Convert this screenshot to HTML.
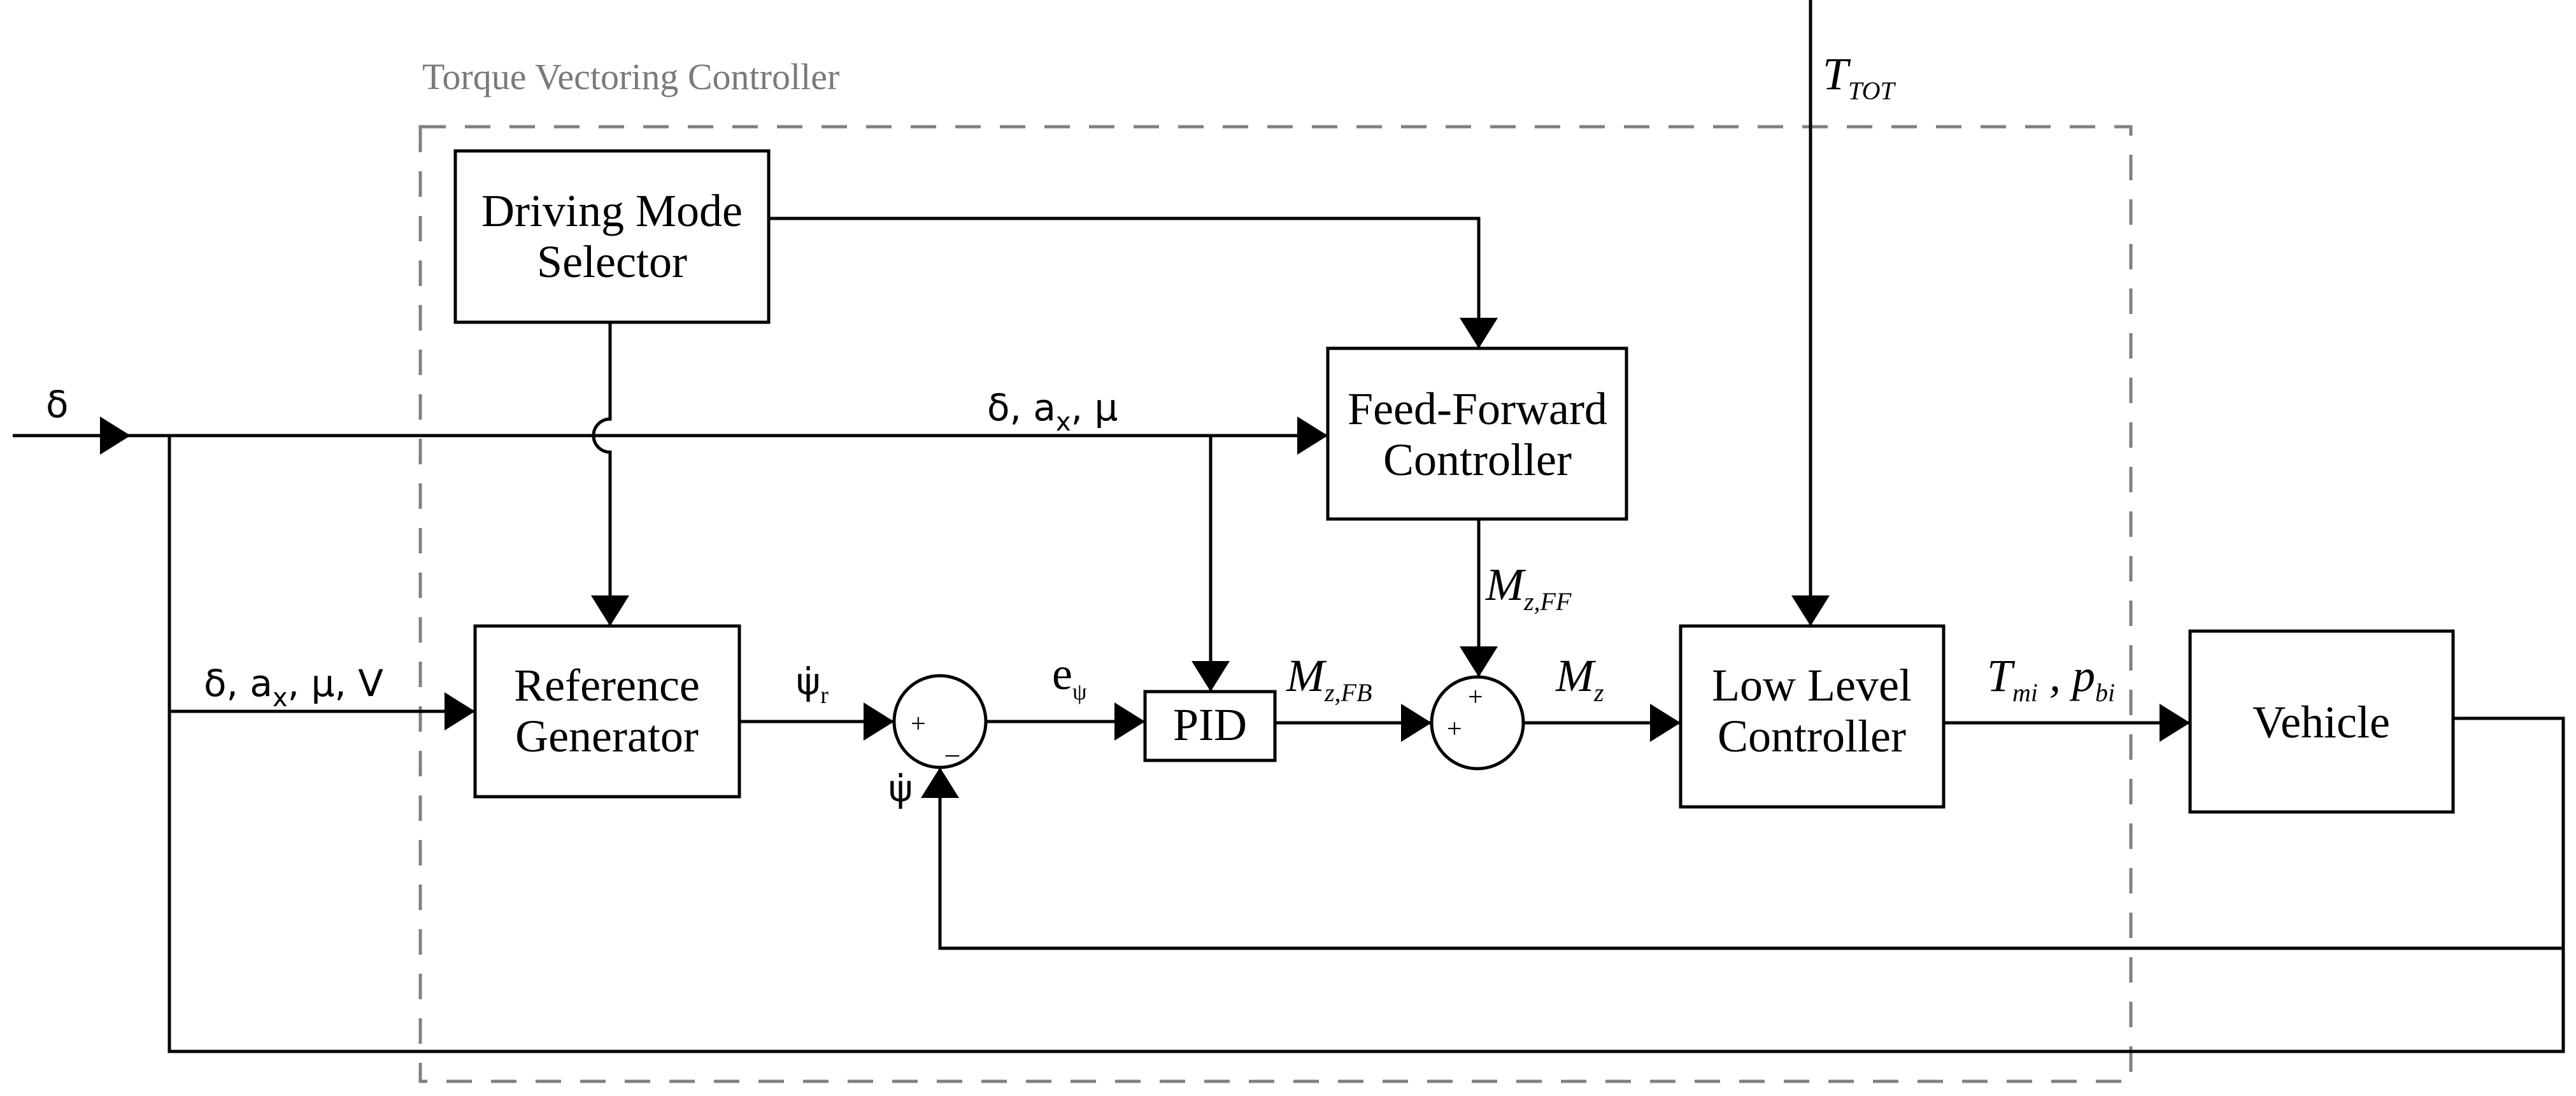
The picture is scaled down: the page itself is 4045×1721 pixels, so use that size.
<!DOCTYPE html>
<html><head><meta charset="utf-8"><style>
html,body{margin:0;padding:0;background:#fff;}
svg{display:block;}
.s{font-family:"Liberation Serif",serif;font-size:72px;fill:#000;}
.a{font-family:"DejaVu Sans","Liberation Sans",sans-serif;font-size:58px;fill:#000;}
</style></head><body>
<svg width="4045" height="1721" viewBox="0 0 4045 1721" xmlns="http://www.w3.org/2000/svg">
<defs>
<marker id="ar" markerUnits="userSpaceOnUse" markerWidth="50" markerHeight="60" refX="48" refY="30" orient="auto">
<path d="M0,0 L48,30 L0,60 Z" fill="#000"/>
</marker>
</defs>
<rect x="660" y="199" width="2686" height="1499" fill="none" stroke="#808080" stroke-width="5" stroke-dasharray="40,30"/>
<text x="663" y="140" font-family="Liberation Serif,serif" font-size="58" fill="#7a7a7a">Torque Vectoring Controller</text>

<g stroke="#000" stroke-width="5" fill="none">
<rect x="715" y="237" width="492" height="269"/>
<rect x="2085" y="547" width="469" height="268"/>
<rect x="746" y="983" width="415" height="268"/>
<rect x="1798" y="1086" width="204" height="108"/>
<rect x="2639" y="983" width="413" height="284"/>
<rect x="3439" y="991" width="413" height="284"/>
<circle cx="1476" cy="1133" r="72"/>
<circle cx="2320" cy="1135" r="72"/>

<line x1="20" y1="684" x2="205" y2="684" marker-end="url(#ar)"/>
<line x1="205" y1="684" x2="2085" y2="684" marker-end="url(#ar)"/>
<path d="M958,506 V658 A26,26 0 0 0 958,710 V983" marker-end="url(#ar)"/>
<path d="M266,684 V1651 H4025 V1128 H3852"/>
<line x1="266" y1="1117" x2="746" y2="1117" marker-end="url(#ar)"/>
<line x1="1901" y1="684" x2="1901" y2="1086" marker-end="url(#ar)"/>
<path d="M1207,343 H2322 V547" marker-end="url(#ar)"/>
<line x1="2322" y1="815" x2="2322" y2="1063" marker-end="url(#ar)"/>
<line x1="1161" y1="1133" x2="1404" y2="1133" marker-end="url(#ar)"/>
<line x1="1548" y1="1133" x2="1798" y2="1133" marker-end="url(#ar)"/>
<line x1="2002" y1="1135" x2="2248" y2="1135" marker-end="url(#ar)"/>
<line x1="2392" y1="1135" x2="2639" y2="1135" marker-end="url(#ar)"/>
<line x1="3052" y1="1135" x2="3439" y2="1135" marker-end="url(#ar)"/>
<path d="M4025,1489 H1476 V1205" marker-end="url(#ar)"/>
<line x1="2843" y1="0" x2="2843" y2="983" marker-end="url(#ar)"/>
</g>

<text class="s" x="961" y="355" text-anchor="middle">Driving Mode</text>
<text class="s" x="961" y="435" text-anchor="middle">Selector</text>
<text class="s" x="2320" y="666" text-anchor="middle">Feed-Forward</text>
<text class="s" x="2320" y="746" text-anchor="middle">Controller</text>
<text class="s" x="953" y="1100" text-anchor="middle">Reference</text>
<text class="s" x="953" y="1180" text-anchor="middle">Generator</text>
<text class="s" x="1900" y="1162" text-anchor="middle">PID</text>
<text class="s" x="2845" y="1100" text-anchor="middle">Low Level</text>
<text class="s" x="2845" y="1180" text-anchor="middle">Controller</text>
<text class="s" x="3645" y="1158" text-anchor="middle">Vehicle</text>

<text x="1430" y="1150" font-family="Liberation Serif,serif" font-size="42">+</text>
<text x="1485" y="1197" font-family="Liberation Serif,serif" font-size="42">–</text>
<text x="2305" y="1108" font-family="Liberation Serif,serif" font-size="42">+</text>
<text x="2272" y="1158" font-family="Liberation Serif,serif" font-size="42">+</text>

<text class="a" x="72" y="655">δ</text>
<text class="a" x="1550" y="660">δ, a<tspan font-size="40" dy="16">x</tspan><tspan dy="-16">, μ</tspan></text>
<text class="a" x="320" y="1093">δ, a<tspan font-size="40" dy="16">x</tspan><tspan dy="-16">, μ, V</tspan></text>
<text class="a" x="1250" y="1090">ψ̇<tspan font-family="Liberation Serif,serif" font-size="38" dy="14">r</tspan></text>
<text class="a" x="1395" y="1258">ψ̇</text>
<text class="s" x="1652" y="1082" font-size="60">e<tspan font-size="36" dy="16">ψ</tspan></text>
<text class="s" x="2020" y="1085" font-style="italic" font-size="62">M<tspan font-size="40" dy="16">z,FB</tspan></text>
<text class="s" x="2333" y="942" font-style="italic" font-size="62">M<tspan font-size="40" dy="16">z,FF</tspan></text>
<text class="s" x="2443" y="1085" font-style="italic" font-size="62">M<tspan font-size="40" dy="16">z</tspan></text>
<text class="s" x="2862" y="140" font-style="italic" font-size="64">T<tspan font-size="40" dy="16">TOT</tspan></text>
<text class="s" x="3120" y="1085" font-style="italic" font-size="62">T<tspan font-size="40" dy="16">mi</tspan><tspan dy="-16"> , p</tspan><tspan font-size="40" dy="16">bi</tspan></text>
</svg>
</body></html>
